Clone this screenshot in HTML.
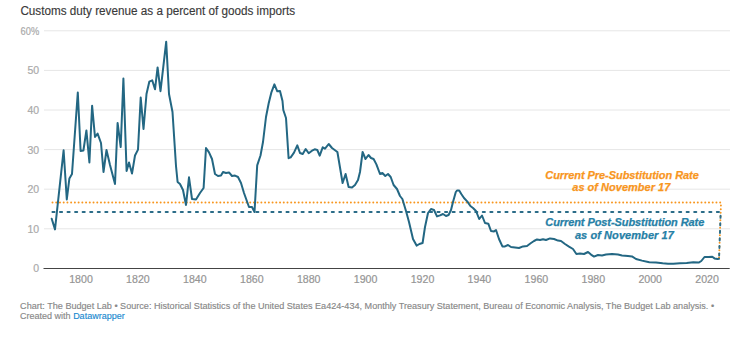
<!DOCTYPE html>
<html><head><meta charset="utf-8">
<style>
html,body{margin:0;padding:0;background:#fff;width:750px;height:341px;overflow:hidden}
svg{display:block}
text{font-family:"Liberation Sans",sans-serif}
</style></head><body>
<svg width="750" height="341" viewBox="0 0 750 341">
<rect width="750" height="341" fill="#fff"/>
<text x="20.4" y="15" font-size="12" fill="#3a3a3a" stroke="#3a3a3a" stroke-width="0.15" textLength="274.6" lengthAdjust="spacingAndGlyphs">Customs duty revenue as a percent of goods imports</text>
<g stroke="#e6e6e6" stroke-width="1">
<line x1="44" x2="730" y1="30.8" y2="30.8"/>
<line x1="44" x2="730" y1="70.4" y2="70.4"/>
<line x1="44" x2="730" y1="110.0" y2="110.0"/>
<line x1="44" x2="730" y1="149.6" y2="149.6"/>
<line x1="44" x2="730" y1="189.2" y2="189.2"/>
<line x1="44" x2="730" y1="228.8" y2="228.8"/>
</g>
<g font-size="10.5" fill="#aaa" stroke="#aaa" stroke-width="0.2" text-anchor="end">
<text x="20.6" y="34.8" text-anchor="start" textLength="18.6" lengthAdjust="spacingAndGlyphs">60%</text>
<text x="39.2" y="74.4">50</text>
<text x="39.2" y="114.0">40</text>
<text x="39.2" y="153.6">30</text>
<text x="39.2" y="193.2">20</text>
<text x="39.2" y="232.8">10</text>
<text x="39.2" y="272.4">0</text>
</g>
<g font-size="10.6" fill="#959595" stroke="#959595" stroke-width="0.2" text-anchor="middle">
<text x="81.0" y="282.8">1800</text>
<text x="137.9" y="282.8">1820</text>
<text x="194.8" y="282.8">1840</text>
<text x="251.8" y="282.8">1860</text>
<text x="308.7" y="282.8">1880</text>
<text x="365.6" y="282.8">1900</text>
<text x="422.5" y="282.8">1920</text>
<text x="479.4" y="282.8">1940</text>
<text x="536.4" y="282.8">1960</text>
<text x="593.3" y="282.8">1980</text>
<text x="650.2" y="282.8">2000</text>
<text x="707.1" y="282.8">2020</text>
</g>
<line x1="43.5" x2="729.7" y1="268.5" y2="268.5" stroke="#444" stroke-width="1"/>
<path d="M52.5,202.5 L721,202.5 L719,259.5" fill="none" stroke="#f8961e" stroke-width="2" stroke-linecap="round" stroke-dasharray="0,3.73"/>
<path d="M52.4,212 L720.7,212 L719,259.5" fill="none" stroke="#2b6c88" stroke-width="1.9" stroke-linecap="round" stroke-dasharray="2.2,5.35"/>
<path d="M51.7,218.7 L55,229.4 L63.6,150.3 L66.8,199.5 L69.4,178.4 L72,174 L77.8,92.5 L80.6,151 L83.4,150.5 L86.4,130.4 L89.4,162.4 L92.1,105.7 L95,137 L97.6,133.6 L101,143 L103.5,172 L106.5,150 L110,165 L115,184 L117.6,123 L120.7,147 L123.4,78.5 L126.6,171 L129,162.4 L132,173.6 L135,155.5 L138,149.6 L140.7,97.5 L143.5,129 L146.5,94 L149.3,81.7 L152.2,80.3 L155,89.3 L157.6,67.4 L160.5,91.2 L166.2,41.7 L169,94 L172.5,112 L176,166 L177.6,182 L180,184 L183,190 L186,205 L189,177.3 L192,199 L196,199.6 L200,193 L203.6,188 L206,148 L209,152.4 L212,159 L215,174 L218,176 L221,175.6 L223,172 L226,173 L229,172.4 L232,176 L235,175.6 L238,177 L241,183 L244,193 L249,207 L252,207 L254.5,212 L257.2,165.4 L260.5,155.5 L263,142 L266,117 L268.7,103.3 L271.3,92.7 L274.4,84.4 L277.3,91.3 L280,91 L282.5,101 L283.3,110 L286,118 L288.6,158.2 L290.7,157.3 L294,152.7 L297.3,145.3 L300,153 L302.7,154 L305.7,149 L308.7,153.3 L312,150.7 L314.7,149.3 L317.3,150 L319.7,155.6 L322.7,147.3 L325,148.7 L328.7,144 L332,148 L337.4,152 L342.6,183 L345.6,174 L348.6,187 L352,187.6 L355,185 L358,180 L360,172 L362.6,152 L365.5,159 L368.5,155 L371,158 L373.6,159 L376.4,164.4 L380,174 L382.4,173 L385.3,176 L388,174 L390.7,177 L393.6,185 L397,189 L400,196 L402.4,199 L406,211 L409,222 L413,239 L416.6,245.6 L419.4,244 L422.6,243 L425,227 L428,213 L431,209 L434,210 L437,216.4 L440,215.4 L443,214 L446,216 L448.6,215 L451,210 L453,202 L455.8,192 L457,190.5 L459.2,190.5 L461.3,194 L464,198 L467.4,201.6 L470.4,206 L473,208 L476,211 L479.2,219 L482,215.5 L485,223 L488.3,223.7 L491,231 L494,231.4 L496,230 L499,239 L502.4,246.4 L505,246.4 L508,245 L511,247 L515,247.4 L519,248 L523,246.4 L527,246 L531,243 L534,241 L537,239.4 L540,240 L543,239.2 L546,240 L550,238.4 L554,239 L558,240.6 L561,241 L565,244 L569,246.6 L573,249 L576.4,254 L580,253.6 L584,254 L588,252 L591,254.6 L594,256.6 L598,255 L602,255.4 L606,254.6 L612,254 L618,254.6 L622,255.4 L628,256 L632,256.4 L636,259 L642,260.6 L649.3,262.3 L656,262.6 L662.7,263.3 L668,263.7 L673.3,263.7 L680,263.3 L686.7,263 L693.3,262.3 L698.7,262.6 L701.3,261 L704.5,257 L708.5,257 L712.3,256.8 L714.5,258.4 L717.6,259 L719,258.8" fill="none" stroke="#236783" stroke-width="2" stroke-linejoin="round" stroke-linecap="round"/>
<g font-size="11" font-weight="bold" font-style="italic" lengthAdjust="spacingAndGlyphs" stroke-width="0.25">
<text x="545.3" y="178.5" fill="#f8961e" stroke="#f8961e" textLength="153.5">Current Pre-Substitution Rate</text>
<text x="572.3" y="190.8" fill="#f8961e" stroke="#f8961e" textLength="98">as of November 17</text>
<text x="545.3" y="226.1" fill="#2680a6" stroke="#2680a6" textLength="159">Current Post-Substitution Rate</text>
<text x="574.9" y="238.7" fill="#2680a6" stroke="#2680a6" textLength="99">as of November 17</text>
</g>
<g font-size="9" fill="#888" stroke="#888" stroke-width="0.15">
<text x="20.1" y="308.9" textLength="694" lengthAdjust="spacingAndGlyphs">Chart: The Budget Lab • Source: Historical Statistics of the United States Ea424-434, Monthly Treasury Statement, Bureau of Economic Analysis, The Budget Lab analysis. •</text>
<text x="20.1" y="318.5">Created with <tspan fill="#1a8ad0" stroke="#1a8ad0">Datawrapper</tspan></text>
</g>
</svg>
</body></html>
